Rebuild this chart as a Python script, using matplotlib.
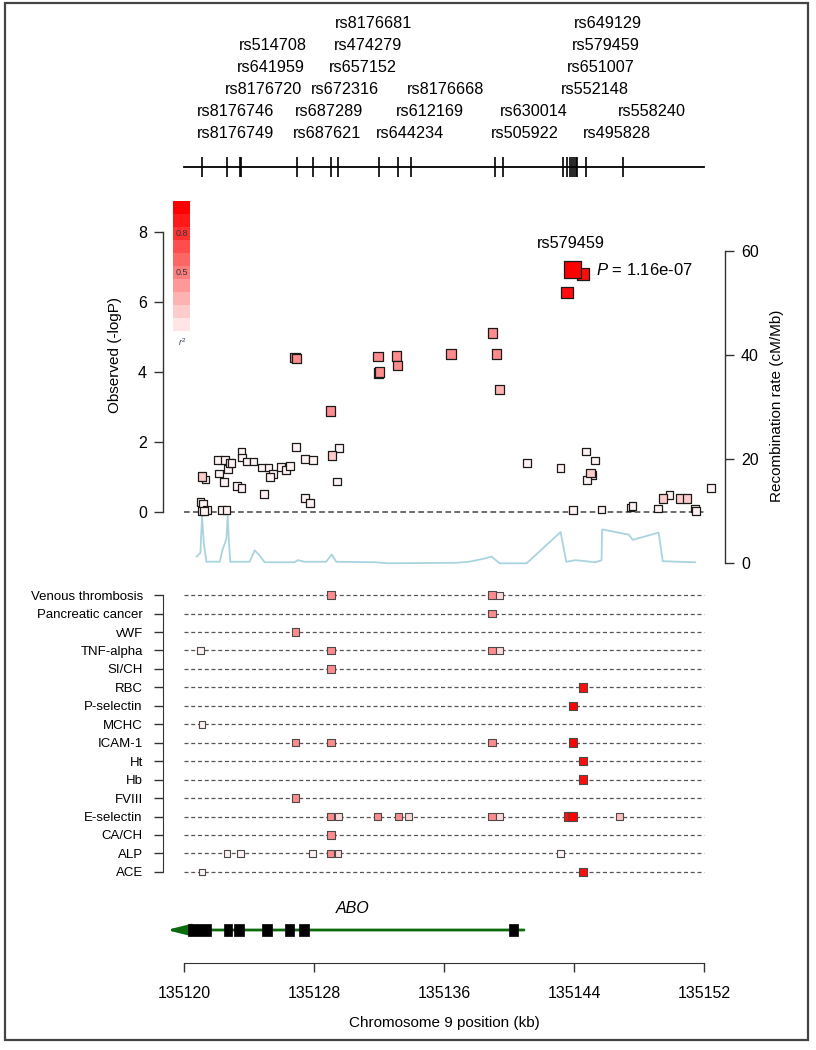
"""Regional association plot of the ABO locus (chr9) with phenotype hits and gene track."""
import matplotlib
matplotlib.use("Agg")
import matplotlib.pyplot as plt
from matplotlib.patches import Rectangle
import numpy as np

W, H = 816, 1050

plt.rcParams["font.family"] = ["Liberation Sans", "DejaVu Sans"]
plt.rcParams["mathtext.fontset"] = "custom"
plt.rcParams["mathtext.rm"] = "Liberation Sans"
plt.rcParams["mathtext.it"] = "Liberation Sans:italic"

# ---------------------------------------------------------------- data
# typed SNPs shown on the top track (kb)
track_pos = [135121.10, 135122.67, 135123.45, 135123.54, 135126.96, 135127.96,
             135129.06, 135129.50, 135132.00, 135133.17, 135133.94, 135139.12,
             135139.62, 135143.31, 135143.56, 135143.76, 135143.89, 135144.00,
             135144.11, 135144.20, 135144.75, 135147.03]

# SNP name labels above the track: name, stacking row (1 = top), anchor (kb)
label_names = ["rs8176681", "rs649129",
               "rs514708", "rs474279", "rs579459",
               "rs641959", "rs657152", "rs651007",
               "rs8176720", "rs672316", "rs8176668", "rs552148",
               "rs8176746", "rs687289", "rs612169", "rs630014", "rs558240",
               "rs8176749", "rs687621", "rs644234", "rs505922", "rs495828"]
label_rows = [1, 1,
              2, 2, 2,
              3, 3, 3,
              4, 4, 4, 4,
              5, 5, 5, 5, 5,
              6, 6, 6, 6, 6]
label_x = [135131.67, 135146.06,
           135125.48, 135131.34, 135145.95,
           135125.37, 135131.00, 135145.66,
           135124.87, 135129.90, 135136.11, 135145.28,
           135123.20, 135128.91, 135135.14, 135141.53, 135148.80,
           135123.20, 135128.80, 135133.92, 135140.97, 135146.61]

# association results
assoc_pos = [135126.85, 135126.92, 135129.02, 135131.94, 135131.96, 135132.02,
             135133.09, 135133.15, 135136.42, 135138.98, 135139.22, 135139.43,
             135143.89, 135144.54, 135143.58,
             135121.12, 135121.33, 135121.02, 135121.19, 135121.12, 135121.43,
             135121.25, 135122.11, 135122.52, 135122.17, 135122.47, 135122.72,
             135122.82, 135122.94, 135122.33, 135122.62, 135123.54, 135123.60,
             135123.85, 135123.29, 135123.54, 135124.29, 135124.79, 135125.21,
             135125.48, 135125.32, 135124.93, 135125.99, 135126.30, 135126.54,
             135126.91, 135127.46, 135127.93, 135127.44, 135127.75, 135129.10,
             135129.55, 135129.43, 135141.12, 135143.17, 135144.74, 135145.28,
             135145.01, 135145.11, 135144.81, 135143.93, 135145.69, 135147.47,
             135147.60, 135149.16, 135149.45, 135149.86, 135150.53, 135150.94,
             135151.45, 135151.50, 135152.41]
assoc_logp = [4.41, 4.39, 2.89, 4.44, 3.97, 4.00,
              4.46, 4.18, 4.51, 5.12, 4.51, 3.49,
              6.94, 6.80, 6.27,
              1.01, 0.93, 0.29, 0.23, 0.03, 0.06,
              0.02, 1.49, 1.49, 1.10, 0.86, 1.22,
              1.41, 1.39, 0.06, 0.06, 1.71, 1.56,
              1.44, 0.74, 0.69, 1.44, 1.27, 1.27,
              1.08, 1.01, 0.51, 1.28, 1.20, 1.31,
              1.85, 1.51, 1.49, 0.39, 0.25, 1.61,
              1.82, 0.87, 1.39, 1.26, 1.73, 1.47,
              1.12, 1.05, 0.91, 0.05, 0.07, 0.13,
              0.18, 0.10, 0.39, 0.49, 0.39, 0.39,
              0.10, 0.03, 0.69]
assoc_r2 = [0.45, 0.45, 0.45, 0.45, 0.45, 0.45,
            0.45, 0.45, 0.45, 0.45, 0.45, 0.30,
            1.00, 0.95, 0.95,
            0.20, 0.05, 0.05, 0.05, 0.05, 0.05,
            0.05, 0.05, 0.05, 0.05, 0.05, 0.05,
            0.05, 0.05, 0.05, 0.05, 0.05, 0.05,
            0.05, 0.05, 0.05, 0.05, 0.05, 0.05,
            0.05, 0.05, 0.05, 0.05, 0.05, 0.05,
            0.05, 0.05, 0.05, 0.05, 0.05, 0.20,
            0.05, 0.05, 0.05, 0.05, 0.05, 0.05,
            0.20, 0.05, 0.05, 0.05, 0.05, 0.05,
            0.05, 0.05, 0.20, 0.05, 0.20, 0.20,
            0.05, 0.05, 0.05]
lead_snp = "rs579459"
lead_p = "1.16e-07"

# recombination rate (cM/Mb)
recomb_pos = [135120.78, 135121.02, 135121.12, 135121.23, 135121.39, 135122.21,
              135122.37, 135122.62, 135122.70, 135122.78, 135122.86, 135124.05,
              135124.36, 135124.66, 135124.97, 135126.81, 135127.01, 135127.42,
              135128.75, 135129.10, 135129.37, 135131.82, 135132.50, 135136.73,
              135137.55, 135138.47, 135138.91, 135139.43, 135141.08, 135143.17,
              135143.52, 135144.09, 135144.71, 135145.32, 135145.69, 135145.72,
              135147.36, 135147.61, 135149.20, 135149.45, 135151.45]
recomb_rate = [1.3, 2.0, 9.0, 3.8, 0.3, 0.3,
               2.5, 4.7, 9.2, 3.8, 0.3, 0.3,
               2.5, 1.5, 0.2, 0.2, 0.6, 0.3,
               0.3, 1.7, 0.3, 0.2, 0.0, 0.1,
               0.3, 0.9, 1.3, 0.0, 0.0, 6.0,
               0.3, 0.6, 0.4, 0.2, 0.6, 6.5,
               5.5, 4.5, 5.9, 0.4, 0.2]

# phenotype associations (rows top to bottom)
phenotypes = ["Venous thrombosis", "Pancreatic cancer", "vWF", "TNF-alpha", "SI/CH",
              "RBC", "P-selectin", "MCHC", "ICAM-1", "Ht", "Hb", "FVIII",
              "E-selectin", "CA/CH", "ALP", "ACE"]
hit_pheno = ["Venous thrombosis"] * 3 + ["Pancreatic cancer", "vWF"] + ["TNF-alpha"] * 4 + \
            ["SI/CH", "RBC", "P-selectin", "MCHC"] + ["ICAM-1"] * 4 + ["Ht", "Hb", "FVIII"] + \
            ["E-selectin"] * 10 + ["CA/CH"] + ["ALP"] * 6 + ["ACE"] * 2
hit_pos = [135129.06, 135138.94, 135139.43,
           135138.94, 135126.87,
           135121.04, 135129.06, 135138.94, 135139.43,
           135129.06, 135144.56, 135143.93, 135121.12,
           135126.87, 135129.06, 135138.94, 135143.93,
           135144.56, 135144.56, 135126.87,
           135129.02, 135129.53, 135131.90, 135133.21, 135133.80, 135138.94,
           135139.43, 135143.64, 135143.89, 135146.81,
           135129.06,
           135122.66, 135123.48, 135127.93, 135129.02, 135129.48, 135143.17,
           135121.12, 135144.56]
hit_r2 = [0.45, 0.45, 0.15,
          0.45, 0.45,
          0.05, 0.45, 0.45, 0.15,
          0.45, 0.95, 1.00, 0.05,
          0.45, 0.45, 0.45, 1.00,
          0.95, 0.95, 0.45,
          0.45, 0.15, 0.45, 0.45, 0.15, 0.45,
          0.15, 0.95, 1.00, 0.25,
          0.45,
          0.05, 0.05, 0.05, 0.45, 0.15, 0.05,
          0.05, 0.95]

# ABO gene model (kb)
gene_name = "ABO"
gene_tip = 135118.94
gene_end = 135140.92
exon_start = [135120.23, 135122.45, 135123.09, 135124.83, 135126.20, 135127.06, 135140.00]
exon_end = [135121.66, 135122.99, 135123.68, 135125.44, 135126.75, 135127.69, 135140.57]

xticks = [135120, 135128, 135136, 135144, 135152]

# ---------------------------------------------------------------- helpers
XL = (xticks[0] - 1.28, xticks[-1] + 1.28)
DARK = "#333333"


def px_axes(fig, left, top, right, bottom):
    return fig.add_axes([left / W, 1 - bottom / H, (right - left) / W, (bottom - top) / H])


def r2_color(r2):
    r2 = np.asarray(r2, dtype=float)
    return np.column_stack([np.ones_like(r2), 1 - r2, 1 - r2])


def pt(px):
    return px * 72.0 / 100.0


fig = plt.figure(figsize=(W / 100, H / 100), dpi=100)

# ---------------------------------------------------------------- SNP track
ax_t = px_axes(fig, 163, 0, 725, 195)
ax_t.set_xlim(XL)
ax_t.set_ylim(195, 0)
ax_t.axis("off")
ax_t.plot([xticks[0], xticks[-1]], [167, 167], color="black", lw=1.3)
ax_t.vlines(track_pos, 157, 177, color="black", lw=1.2)
for name, row, x in zip(label_names, label_rows, label_x):
    ax_t.text(x, 24 + (row - 1) * 21.8, name, ha="center", va="center", fontsize=11.7)

# ---------------------------------------------------------------- association plot
ax = px_axes(fig, 163, 195, 725, 575)
ax2 = ax.twinx()
ax.set_zorder(ax2.get_zorder() + 1)
ax.patch.set_visible(False)
ax.set_xlim(XL)
ax.set_ylim(-1.8, 9.057)
ax2.set_ylim(-2.245, 70.69)

ax2.plot(recomb_pos, recomb_rate, color="#a9d3df", lw=1.3)
ax.plot([xticks[0], xticks[-1]], [0, 0], color="#444444", lw=1.1, ls=(0, (3.7, 2.2)))

pos = np.array(assoc_pos)
logp = np.array(assoc_logp)
r2 = np.array(assoc_r2)
side = 7.5 + 4.5 * r2
lead = int(np.argmax(logp))
side[lead] = 17
order = np.argsort(r2, kind="stable")
ax.scatter(pos[order], logp[order], s=pt(side[order]) ** 2, marker="s",
           c=r2_color(r2[order]), edgecolors="#1a1a1a", linewidths=0.9, zorder=3)
ax.text(pos[lead] - 0.1, logp[lead] + 0.72, lead_snp, ha="center", va="center", fontsize=11.7)
ax.text(pos[lead] + 1.43, logp[lead] - 0.03, r"$P$ = " + lead_p, ha="left", va="center",
        fontsize=12)

for a in (ax, ax2):
    a.spines["top"].set_visible(False)
    a.spines["bottom"].set_visible(False)
    a.set_xticks([])
ax.spines["right"].set_visible(False)
ax2.spines["left"].set_visible(False)
ax.spines["left"].set_bounds(0, 8)
ax2.spines["right"].set_bounds(0, 60)
ax.set_yticks([0, 2, 4, 6, 8])
ax2.set_yticks([0, 20, 40, 60])
for a, side_name in ((ax, "left"), (ax2, "right")):
    a.spines[side_name].set_color(DARK)
    a.spines[side_name].set_linewidth(1.0)
    a.tick_params(axis="y", length=6.5, width=1.0, color=DARK, labelsize=11.5, pad=5)
ax.set_ylabel("Observed (-logP)", fontsize=11, va="center")
ax.yaxis.set_label_coords(-0.0854, 0.579)
ax2.set_ylabel("Recombination rate (cM/Mb)", fontsize=11, va="center")
ax2.yaxis.set_label_coords(1.0925, 0.445)

# r^2 colour key
ax_cb = px_axes(fig, 173, 201, 190, 331)
levels = np.arange(0.1, 1.01, 0.1)
ax_cb.imshow(r2_color(levels)[:, None, :], aspect="auto", origin="lower",
             extent=(0, 1, 0, 1), interpolation="nearest")
ax_cb.axis("off")
ax_cb.text(0.5, 0.75, "0.8", ha="center", va="center", fontsize=6.5, color=DARK)
ax_cb.text(0.5, 0.45, "0.5", ha="center", va="center", fontsize=6.5, color=DARK)
fig.text(182 / W, 1 - 342 / H, r"$r^2$", ha="center", va="center", fontsize=6.5, color="#2f3a5a")

# ---------------------------------------------------------------- phenotype panel
ax_p = px_axes(fig, 163, 585, 725, 882)
ax_p.set_xlim(XL)
ax_p.set_ylim(-0.55, len(phenotypes) - 1 + 0.55)
row_y = {name: len(phenotypes) - 1 - i for i, name in enumerate(phenotypes)}
for name in phenotypes:
    ax_p.plot([xticks[0], xticks[-1]], [row_y[name]] * 2, color="#555555", lw=0.9,
              ls=(0, (3.2, 2.2)), zorder=1)
hy = np.array([row_y[p] for p in hit_pheno])
hr2 = np.array(hit_r2)
ax_p.scatter(hit_pos, hy, s=pt(6.5 + 2 * hr2) ** 2, marker="s", c=r2_color(hr2),
             edgecolors="#4a4a4a", linewidths=0.8, zorder=3)
ax_p.set_yticks([row_y[p] for p in phenotypes])
ax_p.set_yticklabels(phenotypes)
ax_p.set_xticks([])
for s in ("top", "right", "bottom"):
    ax_p.spines[s].set_visible(False)
ax_p.spines["left"].set_bounds(0, len(phenotypes) - 1)
ax_p.spines["left"].set_color(DARK)
ax_p.tick_params(axis="y", length=6.5, width=1.0, color=DARK, labelsize=9.5, pad=8)

# ---------------------------------------------------------------- gene track + x axis
ax_g = px_axes(fig, 163, 885, 725, 963)
ax_g.set_xlim(XL)
ax_g.set_ylim(0, 1)
gy = 0.423
ax_g.annotate("", xy=(gene_tip, gy), xytext=(gene_end, gy),
              arrowprops=dict(arrowstyle="-|>,head_length=1.0,head_width=0.25",
                              color="#0b6b0b", lw=2.0, shrinkA=0, shrinkB=0,
                              mutation_scale=14))
for s0, s1 in zip(exon_start, exon_end):
    ax_g.add_patch(Rectangle((s0, gy - 0.083), s1 - s0, 0.166, fc="black", ec="black",
                             lw=0.5, zorder=3))
ax_g.text((exon_start[0] + gene_end) / 2 - 0.2, 0.705, gene_name, ha="center", va="center",
          fontsize=11.5, style="italic")
for s in ("top", "right", "left"):
    ax_g.spines[s].set_visible(False)
ax_g.set_yticks([])
ax_g.spines["bottom"].set_bounds(xticks[0], xticks[-1])
ax_g.spines["bottom"].set_color(DARK)
ax_g.set_xticks(xticks)
ax_g.set_xticklabels([str(t) for t in xticks])
ax_g.tick_params(axis="x", length=6.5, width=1.0, color=DARK, labelsize=11.5, pad=10)
ax_g.set_xlabel("Chromosome 9 position (kb)", fontsize=11)
ax_g.xaxis.label.set_va("center")
ax_g.xaxis.set_label_coords(0.5, (963 - 1023) / 78)

# outer frame
fig.add_artist(Rectangle((5 / W, 1 - 1040 / H), (808 - 5) / W, (1040 - 3) / H,
                         transform=fig.transFigure, fill=False, ec="#444444", lw=1.6))

fig.savefig("out.png", dpi=100)
